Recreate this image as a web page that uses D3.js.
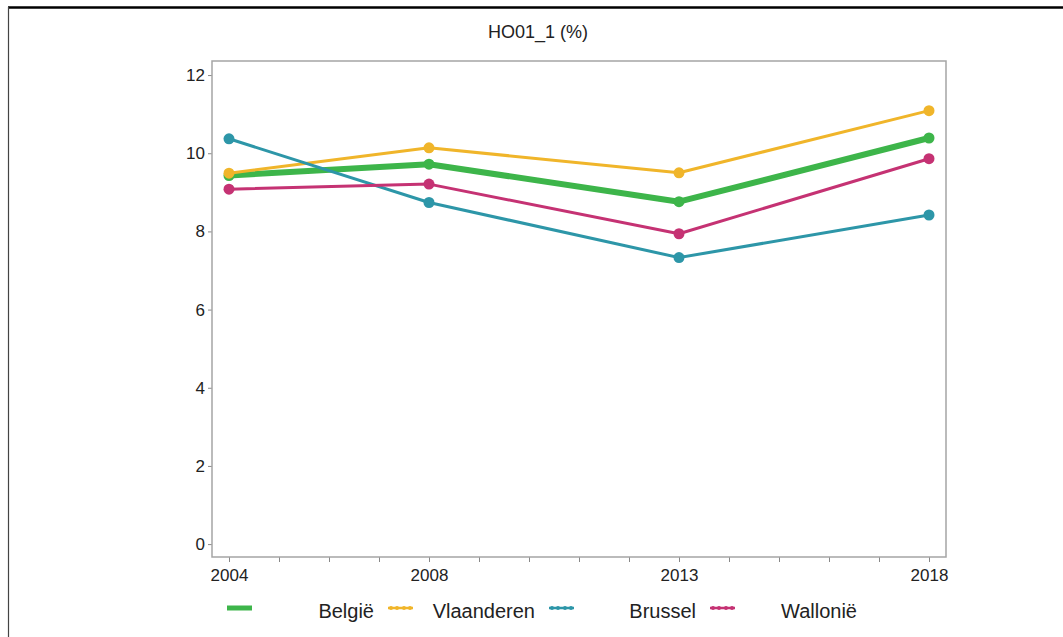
<!DOCTYPE html>
<html>
<head>
<meta charset="utf-8">
<script src="https://cdn.jsdelivr.net/npm/d3@7"></script>
<style>
  body { margin: 0; background: #fff; }
  text { font-family: "Liberation Sans", Arial, sans-serif; fill: #222; }
</style>
</head>
<body>
<svg id="chart" width="1063" height="637"></svg>
<script>
// data
var years = [2004, 2008, 2013, 2018];
var seriesNames = ["België", "Vlaanderen", "Brussel", "Wallonië"];
var belgie     = [9.43, 9.72, 8.76, 10.39];
var vlaanderen = [9.49, 10.14, 9.50, 11.09];
var brussel    = [10.37, 8.74, 7.33, 8.42];
var wallonie   = [9.08, 9.21, 7.94, 9.86];
var yTicks = [0, 2, 4, 6, 8, 10, 12];
var xTickLabels = [2004, 2008, 2013, 2018];

var colors = ["#3db54a", "#f0b52a", "#2d96a8", "#c53273"];
var widths = [6, 3, 3, 3];
var radii = [5.5, 5.5, 5.5, 5.5];

var svg = d3.select("#chart");
var plot = {left: 212, right: 946, top: 61, bottom: 557};

// outer frame (top and left only, as in the picture)
svg.append("line").attr("x1", 8).attr("x2", 1063).attr("y1", 7.5).attr("y2", 7.5)
  .attr("stroke", "#000").attr("stroke-width", 2.5);
svg.append("line").attr("x1", 8.5).attr("x2", 8.5).attr("y1", 7).attr("y2", 637)
  .attr("stroke", "#444").attr("stroke-width", 1.2);

var x = d3.scaleLinear().domain([2003.66, 2018.34]).range([plot.left, plot.right]);
var y = d3.scaleLinear().domain([-0.33, 12.36]).range([plot.bottom, plot.top]);

svg.append("text")
  .attr("x", 538).attr("y", 38)
  .attr("text-anchor", "middle")
  .style("font-size", "18px")
  .text("HO01_1 (%)");

// axes
var xAxis = d3.axisBottom(x)
  .tickValues(d3.range(2004, 2019))
  .tickSize(5)
  .tickPadding(7)
  .tickFormat(function(d) { return xTickLabels.indexOf(d) >= 0 ? d : ""; });
var gx = svg.append("g").attr("transform", "translate(0," + plot.bottom + ")").call(xAxis);
gx.select(".domain").remove();
gx.selectAll("line").attr("stroke", "#888");
gx.selectAll("text").style("font-size", "17px").attr("fill", "#222");

var yAxis = d3.axisLeft(y).tickValues(yTicks).tickSize(4).tickPadding(3);
var gy = svg.append("g").attr("transform", "translate(" + plot.left + ",0)").call(yAxis);
gy.select(".domain").remove();
gy.selectAll("line").attr("stroke", "#888");
gy.selectAll("text").style("font-size", "17px").attr("fill", "#222");

svg.append("rect")
  .attr("x", plot.left).attr("y", plot.top)
  .attr("width", plot.right - plot.left).attr("height", plot.bottom - plot.top)
  .attr("fill", "none").attr("stroke", "#a5a5a5").attr("stroke-width", 1.5);

// lines and markers
var allSeries = [belgie, vlaanderen, brussel, wallonie];
var line = d3.line()
  .x(function(d, i) { return x(years[i]); })
  .y(function(d) { return y(d); });

allSeries.forEach(function(vals, k) {
  svg.append("path")
    .datum(vals)
    .attr("d", line)
    .attr("fill", "none")
    .attr("stroke", colors[k])
    .attr("stroke-width", widths[k])
    .attr("stroke-linejoin", "round");
  svg.selectAll(".dot" + k)
    .data(vals)
    .enter().append("circle")
    .attr("cx", function(d, i) { return x(years[i]); })
    .attr("cy", function(d) { return y(d); })
    .attr("r", radii[k])
    .attr("fill", colors[k]);
});

// legend
var legendY = 608;
var legendX0 = 227, legendStep = 161;
seriesNames.forEach(function(name, k) {
  var lx = legendX0 + k * legendStep;
  var g = svg.append("g");
  g.append("line")
    .attr("x1", lx).attr("x2", lx + 25)
    .attr("y1", legendY).attr("y2", legendY)
    .attr("stroke", colors[k])
    .attr("stroke-width", k === 0 ? 5 : 2.5);
  if (k > 0) {
    [3, 9, 16, 22].forEach(function(o) {
      g.append("circle").attr("cx", lx + o).attr("cy", legendY).attr("r", 2).attr("fill", colors[k]);
    });
  }
  g.append("text")
    .attr("x", lx + 147).attr("y", legendY + 10)
    .attr("text-anchor", "end")
    .style("font-size", "20px")
    .text(name);
});
</script>
</body>
</html>
